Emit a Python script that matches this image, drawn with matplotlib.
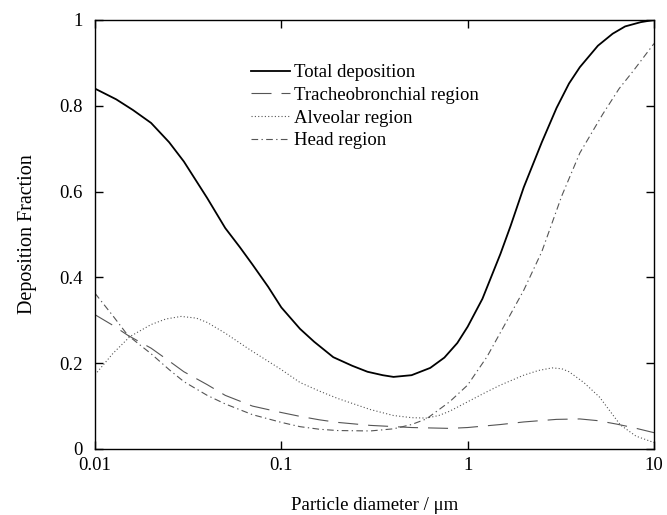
import matplotlib
matplotlib.use("Agg")
import matplotlib.pyplot as plt

plt.rcParams['font.family'] = ['Liberation Serif', 'DejaVu Serif']

# Particle diameter (um) and deposition fractions per region
total_d = [0.01, 0.013, 0.016, 0.02, 0.025, 0.03, 0.04, 0.05, 0.06, 0.07,
           0.085, 0.1, 0.126, 0.15, 0.19, 0.24, 0.29, 0.35, 0.4, 0.5, 0.63,
           0.75, 0.88, 1.0, 1.2, 1.5, 1.7, 2.0, 2.5, 3.0, 3.5, 4.0, 5.0, 6.0,
           7.0, 8.5, 10.0]
total_v = [0.84, 0.815, 0.79, 0.76, 0.715, 0.67, 0.585, 0.515, 0.47, 0.43,
           0.378, 0.33, 0.28, 0.25, 0.214, 0.194, 0.18, 0.172, 0.168, 0.172,
           0.189, 0.213, 0.247, 0.285, 0.35, 0.455, 0.52, 0.61, 0.715, 0.795,
           0.852, 0.89, 0.94, 0.968, 0.985, 0.995, 1.0]

tb_d = [0.01, 0.0125, 0.015, 0.02, 0.025, 0.03, 0.04, 0.05, 0.07, 0.1, 0.126,
        0.16, 0.2, 0.3, 0.5, 0.8, 1.0, 1.5, 2.0, 3.0, 4.0, 5.0, 6.3, 7.7, 10.0]
tb_v = [0.313, 0.288, 0.265, 0.235, 0.205, 0.18, 0.15, 0.125, 0.10, 0.085,
        0.076, 0.068, 0.062, 0.055, 0.05, 0.048, 0.05, 0.057, 0.063, 0.069,
        0.07, 0.066, 0.058, 0.05, 0.038]

alv_d = [0.01, 0.0125, 0.0154, 0.02, 0.024, 0.029, 0.035, 0.04, 0.05, 0.068,
         0.1, 0.126, 0.16, 0.2, 0.3, 0.4, 0.5, 0.6, 0.7, 0.8, 1.0, 1.25, 1.5,
         2.0, 2.4, 2.84, 3.2, 3.5, 4.2, 5.1, 6.6, 8.0, 10.0]
alv_v = [0.173, 0.223, 0.262, 0.29, 0.303, 0.309, 0.305, 0.295, 0.27, 0.231,
         0.185, 0.155, 0.135, 0.118, 0.092, 0.078, 0.073, 0.072, 0.078, 0.088,
         0.11, 0.132, 0.149, 0.172, 0.183, 0.189, 0.187, 0.18, 0.155, 0.121,
         0.056, 0.03, 0.015]

head_d = [0.01, 0.0125, 0.015, 0.02, 0.025, 0.03, 0.04, 0.05, 0.07, 0.1,
          0.126, 0.16, 0.2, 0.3, 0.4, 0.5, 0.6, 0.8, 1.0, 1.27, 1.63, 2.0,
          2.5, 3.2, 4.0, 5.3, 6.5, 7.7, 10.0]
head_v = [0.363, 0.31, 0.265, 0.222, 0.185, 0.157, 0.125, 0.105, 0.08, 0.062,
          0.052, 0.046, 0.043, 0.042, 0.047, 0.057, 0.07, 0.11, 0.149, 0.215,
          0.30, 0.37, 0.46, 0.59, 0.69, 0.78, 0.84, 0.88, 0.945]

x_ticks = [0.01, 0.1, 1, 10]
x_labels = ['0.01', '0.1', '1', '10']
y_ticks = [0, 0.2, 0.4, 0.6, 0.8, 1]
y_labels = ['0', '0.2', '0.4', '0.6', '0.8', '1']

fig = plt.figure(figsize=(6.67, 5.15), dpi=100)
ax = fig.add_axes([0.1424, 0.1282, 0.8381, 0.8330])

ax.plot(total_d, total_v, color='black', lw=1.3, label='Total deposition')
ax.plot(tb_d, tb_v, color='#555555', lw=0.8, dashes=(18, 9),
        label='Tracheobronchial region')
ax.plot(alv_d, alv_v, color='#555555', lw=0.8, dashes=(1, 2),
        label='Alveolar region')
ax.plot(head_d, head_v, color='#555555', lw=0.8, dashes=(6, 3, 1.2, 3),
        label='Head region')

ax.set_xscale('log')
ax.set_xlim(0.01, 10)
ax.set_ylim(0, 1)
ax.set_xticks(x_ticks)
ax.set_xticklabels(x_labels)
ax.set_yticks(y_ticks)
ax.set_yticklabels(y_labels)
ax.minorticks_off()
ax.tick_params(which='both', direction='in', top=True, right=True,
               length=6, width=1, labelsize=13.5)
ax.tick_params(axis='y', pad=9)
ax.tick_params(axis='x', pad=6)
for s in ax.spines.values():
    s.set_linewidth(1.0)

ax.set_xlabel('Particle diameter / \u03bcm', fontsize=13.5, labelpad=16)
ax.set_ylabel('Deposition Fraction', fontsize=14.5, labelpad=16)

ax.legend(loc='upper left', bbox_to_anchor=(0.265, 0.915), frameon=False,
          fontsize=13.5, handlelength=2.1, handletextpad=0.2,
          labelspacing=0.3, borderaxespad=0)

fig.savefig('out.png', dpi=100)
